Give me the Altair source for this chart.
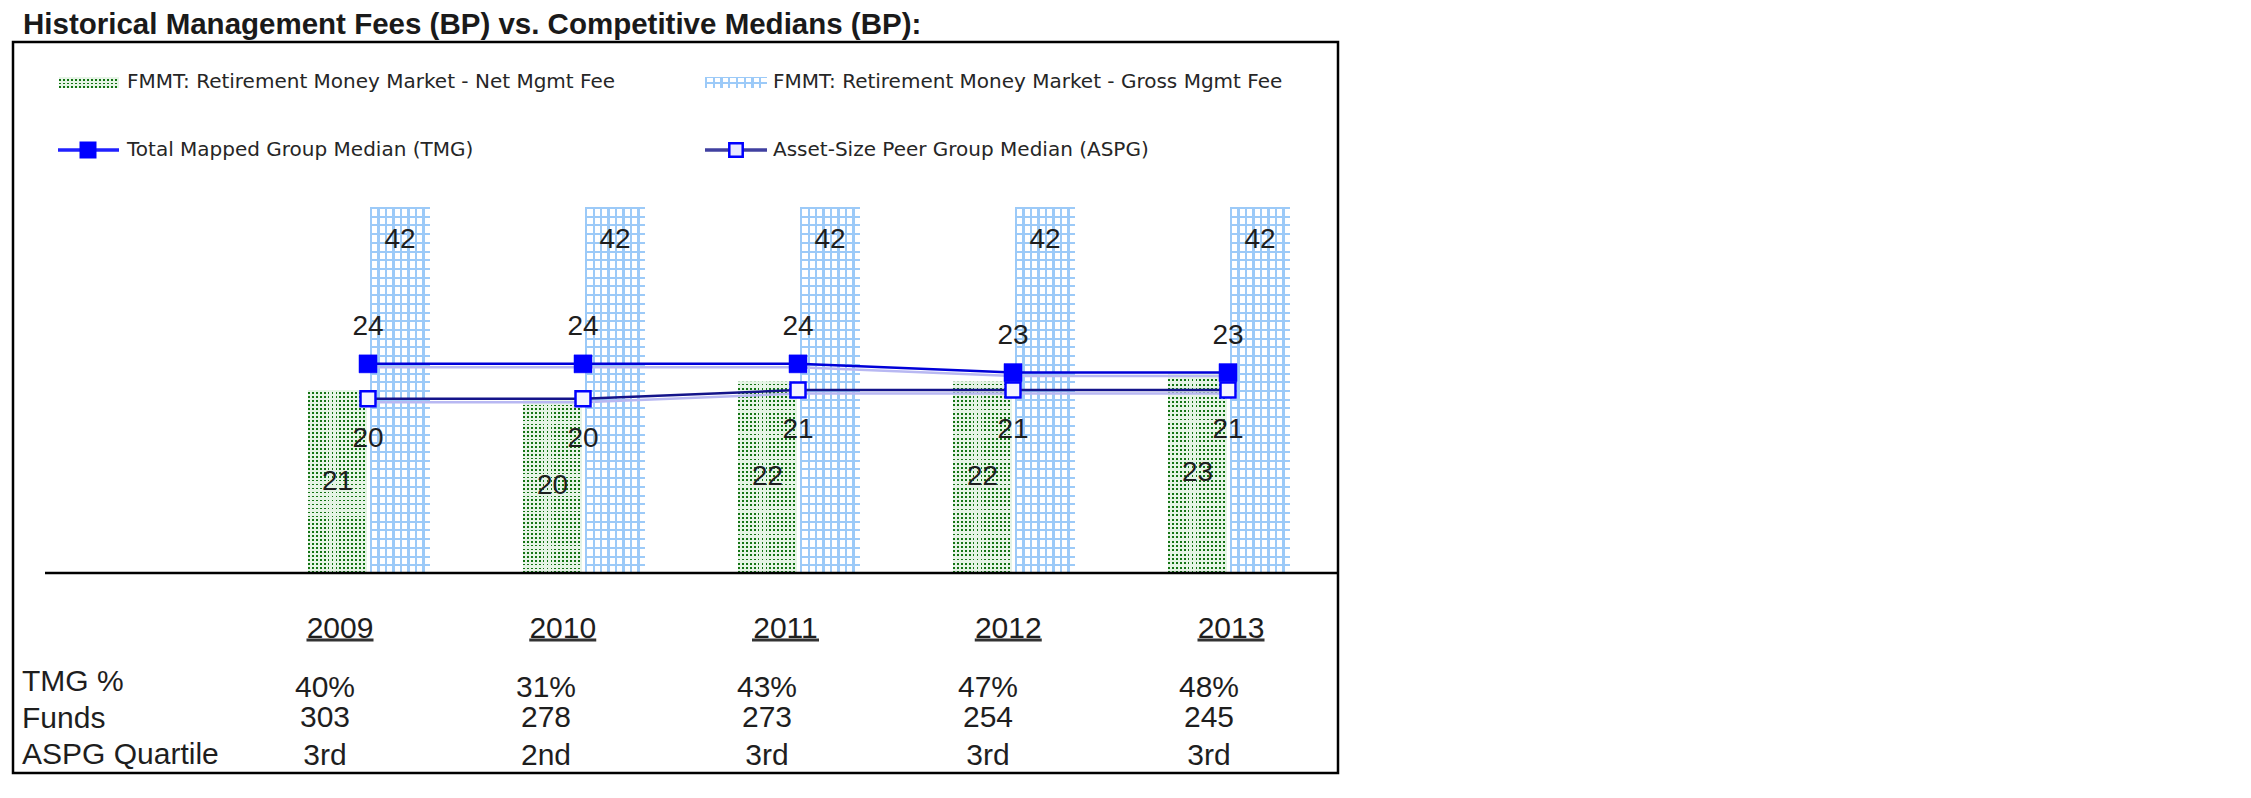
import altair as alt
import pandas as pd

# ---------------- data ----------------
years = ["2009", "2010", "2011", "2012", "2013"]
net_fee = [21, 20, 22, 22, 23]
gross_fee = [42, 42, 42, 42, 42]
tmg_median = [24, 24, 24, 23, 23]
aspg_median = [20, 20, 21, 21, 21]
tmg_pct = ["40%", "31%", "43%", "47%", "48%"]
funds = ["303", "278", "273", "254", "245"]
aspg_quartile = ["3rd", "2nd", "3rd", "3rd", "3rd"]
row_labels = ["TMG %", "Funds", "ASPG Quartile"]
legend_labels = [
    "FMMT: Retirement Money Market - Net Mgmt Fee",
    "FMMT: Retirement Money Market - Gross Mgmt Fee",
    "Total Mapped Group Median (TMG)",
    "Asset-Size Peer Group Median (ASPG)",
]
title_text = "Historical Management Fees (BP) vs. Competitive Medians (BP):"

df = pd.DataFrame({
    "year": years, "net": net_fee, "gross": gross_fee,
    "tmg": tmg_median, "aspg": aspg_median,
    "tmg_pct": tmg_pct, "funds": funds, "quartile": aspg_quartile,
})

# ---------------- layout / style ----------------
W, H = 1325, 731
K = 366 / 42.0
y_scale = alt.Scale(domain=[-200 / K, 531 / K], nice=False, zero=False)
LABEL_FONT = "Liberation Sans"
LEG_FONT = "DejaVu Sans"
TXT = "#1e1e1e"
GRID_BLUE = "#9ccaf8"
DOT_GREEN = "#137313"
PALE_GREEN = "#e6f4e6"
CLEAR = "rgba(255,255,255,0)"


def stripes(n, duty, on, off):
    stops = []
    for i in range(n):
        a = round(i / n, 5)
        b = round((i + duty) / n, 5)
        c = round((i + 1) / n, 5)
        stops += [(a, on), (b, on), (b, off), (c, off)]
    return stops


def grad(stops, along_y):
    return alt.LinearGradient(
        gradient="linear",
        stops=[alt.GradientStop(color=c, offset=o) for o, c in stops],
        x1=0, y1=0, x2=0 if along_y else 1, y2=1 if along_y else 0,
    )


green_cols = grad(stripes(15, 0.45, DOT_GREEN, PALE_GREEN), False)
green_rows = grad(stripes(46, 0.55, PALE_GREEN, CLEAR), True)
blue_cols = grad(stripes(8, 0.27, GRID_BLUE, "#ffffff"), False)
blue_rows = grad(stripes(42, 0.23, GRID_BLUE, CLEAR), True)
leg_green_rows = grad(stripes(3, 0.55, PALE_GREEN, CLEAR), True)
leg_blue_rows = grad(stripes(2, 0.25, GRID_BLUE, CLEAR), True)

x_bar = alt.X("year:O", axis=None,
              scale=alt.Scale(type="point", domain=years, range=[355, 1215], padding=0))
x_year = alt.X("year:O", axis=None,
               scale=alt.Scale(type="point", domain=years, range=[327, 1218], padding=0))
x_val = alt.X("year:O", axis=None,
              scale=alt.Scale(type="point", domain=years, range=[312, 1196], padding=0))


def yq(field):
    return alt.Y(field, scale=y_scale, axis=None)


base = alt.Chart(df)

# bars (pattern built from two stacked gradient fills)
net_a = base.mark_bar(width=59, xOffset=-30.5, fill=green_cols).encode(x=x_bar, y=yq("net:Q"), y2=alt.datum(0))
net_b = base.mark_bar(width=59, xOffset=-30.5, fill=green_rows).encode(x=x_bar, y=yq("net:Q"), y2=alt.datum(0))
gross_a = base.mark_bar(width=60, xOffset=32, fill=blue_cols).encode(x=x_bar, y=yq("gross:Q"), y2=alt.datum(0))
gross_b = base.mark_bar(width=60, xOffset=32, fill=blue_rows).encode(x=x_bar, y=yq("gross:Q"), y2=alt.datum(0))

# median lines
tmg_shadow = base.mark_line(color="#b8b8f2", strokeWidth=2.5, yOffset=3.5).encode(x=x_bar, y=yq("tmg:Q"))
aspg_shadow = base.mark_line(color="#b8b8f2", strokeWidth=2.5, yOffset=3.5).encode(x=x_bar, y=yq("aspg:Q"))
tmg_line = base.mark_line(color="#0000d8", strokeWidth=2.5).encode(x=x_bar, y=yq("tmg:Q"))
aspg_line = base.mark_line(color="#14148a", strokeWidth=2.5).encode(x=x_bar, y=yq("aspg:Q"))
tmg_pts = base.mark_square(size=324, fill="#0000ff", stroke="#0000ff", strokeWidth=0.5, opacity=1).encode(x=x_bar, y=yq("tmg:Q"))
aspg_pts = base.mark_square(size=225, fill="#f4f4ff", stroke="#0000ff", strokeWidth=2.5, opacity=1).encode(x=x_bar, y=yq("aspg:Q"))

# value labels
lbl = dict(font=LABEL_FONT, fontSize=28, color=TXT, baseline="middle")
lbl_gross = base.mark_text(xOffset=32, dy=33, **lbl).encode(x=x_bar, y=yq("gross:Q"), text="gross:Q")
lbl_tmg = base.mark_text(dy=-37, **lbl).encode(x=x_bar, y=yq("tmg:Q"), text="tmg:Q")
lbl_aspg = base.mark_text(dy=40, **lbl).encode(x=x_bar, y=yq("aspg:Q"), text="aspg:Q")
lbl_net = base.transform_calculate(half="datum.net / 2").mark_text(xOffset=-30.5, **lbl).encode(
    x=x_bar, y=yq("half:Q"), text="net:Q")

# category baseline
baseline = alt.Chart(pd.DataFrame({"v": [0]})).mark_rule(color="black", strokeWidth=2.5).encode(
    x=alt.value(32), x2=alt.value(W), y=yq("v:Q"))

# table under the chart
tbl = dict(font=LABEL_FONT, fontSize=30, color=TXT, baseline="middle")
year_txt = base.mark_text(**tbl).encode(x=x_year, y=alt.value(587), text="year:N")
year_ul = base.mark_rule(color="#333333", strokeWidth=3, xOffset=-33.5, x2Offset=33.5).encode(
    x=x_year, x2=alt.X2("year"), y=alt.value(598))
val_pct = base.mark_text(**tbl).encode(x=x_val, y=alt.value(646), text="tmg_pct:N")
val_funds = base.mark_text(**tbl).encode(x=x_val, y=alt.value(676), text="funds:N")
val_q = base.mark_text(**tbl).encode(x=x_val, y=alt.value(714), text="quartile:N")
rows = alt.Chart(pd.DataFrame({"row": row_labels})).mark_text(align="left", **tbl).encode(
    x=alt.value(9),
    y=alt.Y("row:N", axis=None, scale=alt.Scale(type="point", domain=row_labels, range=[640, 713], padding=0)),
    text="row:N")

# legend (drawn inside the frame, 2 x 2)
one = pd.DataFrame({"k": [0]})


def leg_text(label, x, y):
    return alt.Chart(pd.DataFrame({"t": [label]})).mark_text(
        align="left", baseline="middle", font=LEG_FONT, fontSize=20, color="#262626"
    ).encode(x=alt.value(x), y=alt.value(y), text="t:N")


def swatch(fill, x0, x1, y0, y1):
    return alt.Chart(one).mark_rect(fill=fill).encode(
        x=alt.value(x0), x2=alt.value(x1), y=alt.value(y0), y2=alt.value(y1))


leg = [
    swatch(green_cols, 46, 106, 35, 46), swatch(leg_green_rows, 46, 106, 35, 46),
    leg_text(legend_labels[0], 114, 40),
    swatch(blue_cols, 692, 754, 35, 46), swatch(leg_blue_rows, 692, 754, 35, 46),
    leg_text(legend_labels[1], 760, 40),
    alt.Chart(one).mark_rule(color="#2020ff", strokeWidth=3.5).encode(
        x=alt.value(45), x2=alt.value(106), y=alt.value(108)),
    alt.Chart(one).mark_square(size=289, fill="#0000ff", opacity=1).encode(x=alt.value(75), y=alt.value(108)),
    leg_text(legend_labels[2], 114, 108),
    alt.Chart(one).mark_rule(color="#4040a0", strokeWidth=3.5).encode(
        x=alt.value(692), x2=alt.value(754), y=alt.value(108)),
    alt.Chart(one).mark_square(size=180, fill="#e8e8ff", stroke="#0000ff", strokeWidth=2.5, opacity=1).encode(
        x=alt.value(723), y=alt.value(108)),
    leg_text(legend_labels[3], 760, 108),
]

chart = alt.layer(
    net_a, net_b, gross_a, gross_b,
    tmg_shadow, aspg_shadow, tmg_line, aspg_line, tmg_pts, aspg_pts,
    lbl_gross, lbl_tmg, lbl_aspg, lbl_net, baseline,
    year_txt, year_ul, val_pct, val_funds, val_q, rows,
    *leg,
).resolve_scale(
    x="independent", y="independent"
).properties(
    width=W, height=H,
    autosize=alt.AutoSizeParams(type="none"),
    padding={"left": 5, "top": 34, "right": 12, "bottom": 17},
    title=alt.TitleParams(text=title_text, anchor="start", dx=10, offset=2,
                          fontSize=29.5, fontWeight="bold", font=LABEL_FONT, color="#1a1a1a"),
).configure_view(stroke="black", strokeWidth=2.5)

chart.save("out.html", embed_options={"renderer": "svg", "actions": False})
